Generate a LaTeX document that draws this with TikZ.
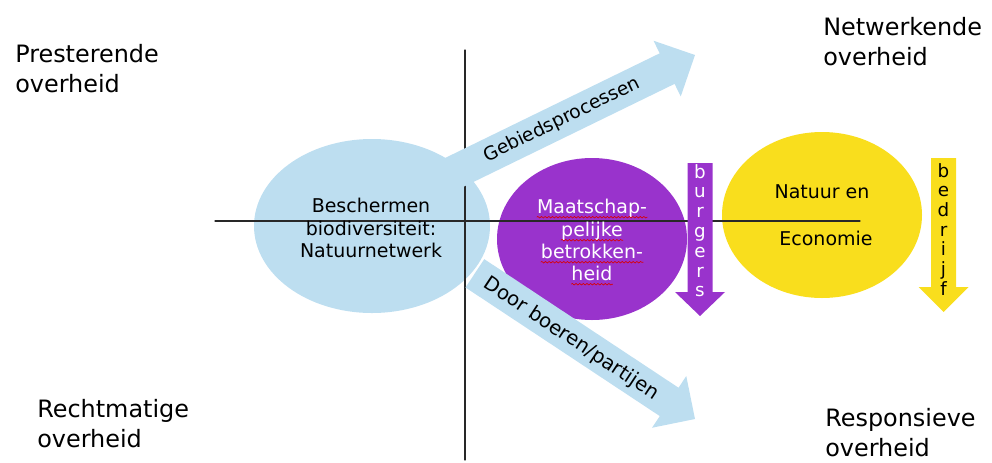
\documentclass[tikz,border=0pt]{standalone}
\usepackage{fontspec}
\setmainfont{DejaVu Sans}
\usepackage{tikz,tkz-euclide}
\usetikzlibrary{calc,decorations.pathmorphing}

\definecolor{lichtblauw}{RGB}{189,222,240}
\definecolor{paars}{RGB}{153,51,204}
\definecolor{geel}{RGB}{249,222,29}
\definecolor{lijn}{RGB}{40,40,40}

\tikzset{
	hoek/.style={anchor=north west, align=left, inner sep=0pt, font=\fontsize{17}{21.5}\selectfont},
	binnen/.style={inner sep=0pt, font=\fontsize{13.5}{16}\selectfont},
	letter/.style={anchor=base, inner sep=0pt, font=\fontsize{13}{15}\selectfont},
	kronkel/.style={red!85!black, line width=0.45pt, decorate, decoration={snake, amplitude=0.55pt, segment length=2.6pt}},
}

\begin{document}
\begin{tikzpicture}[x=0.025cm, y=-0.025cm]
			\useasboundingbox (0,0) rectangle (992,462);
			\tkzDefPoints{215/221/W,860/221/E,465/50/N,465/460/S}
			\tkzDefPoints{372/226/B,592/239/M,822/215/G}
			\fill[lichtblauw] (B) ellipse [x radius=118, y radius=87];
			\fill[paars] (M) ellipse [x radius=95, y radius=81];
			\fill[geel] (G) ellipse [x radius=100, y radius=83];
			\tkzDrawSegments[lijn, line width=0.9pt](W,E N,S)
			\foreach \x/\y/\hoek/\lengte in {695/55/26/290, 695/419/-33.5/264}
				\fill[lichtblauw, shift={(\x,\y)}, rotate=\hoek] (0,0) -- (-31,-31) -- (-31,-17) -- (-\lengte,-17)
					-- (-\lengte,17) -- (-31,17) -- (-31,31) -- cycle;
			\foreach \x/\top/\kop/\punt/\kleur in {700/163/292/316/paars, 943.5/158/287/312/geel}
				\fill[\kleur] (\x-12.5,\top) -- (\x+12.5,\top) -- (\x+12.5,\kop) -- (\x+25,\kop) -- (\x,\punt)
					-- (\x-25,\kop) -- (\x-12.5,\kop) -- cycle;
			\node[hoek] (pres) at (15,44) {Presterende\\overheid};
			\node[hoek] (netw) at (823,17) {Netwerkende\\overheid};
			\node[hoek] (recht) at (37,399) {Rechtmatige\\overheid};
			\node[hoek] (resp) at (825,408) {Responsieve\\overheid};
			\node[binnen, align=center] (besch) at (371,228) {Beschermen\\biodiversiteit:\\Natuurnetwerk};
			\node[binnen, anchor=base, white] (m1) at (592,213) {Maatschap-};
			\node[binnen, anchor=base, white] (m2) at (592,236) {pelijke};
			\node[binnen, anchor=base, white] (m3) at (592,258) {betrokken-};
			\node[binnen, anchor=base, white] (m4) at (592,280) {heid};
			\foreach \n in {m1,m2,m3,m4}
				\draw[kronkel] ([yshift=-3pt]\n.base west) -- ([yshift=-3pt]\n.base east);
			\node[binnen, anchor=base] (nat) at (822,198) {Natuur en};
			\node[binnen, anchor=base] (eco) at (826,245) {Economie};
			\node[inner sep=0pt, rotate=26, font=\fontsize{13.3}{15}\selectfont] (gebied) at (562,120) {Gebiedsprocessen};
			\node[inner sep=0pt, rotate=-33.5, font=\fontsize{14}{16}\selectfont] (boer) at (571,339) {Door boeren/partijen};
			\foreach \l [count=\i] in {b,u,r,g,e,r,s}
				\node[letter, white] (bu\i) at (700,{178+(\i-1)*19.8}) {\l};
			\foreach \l [count=\i] in {b,e,d,r,i,j,f}
				\node[letter] (be\i) at (943.5,{177+(\i-1)*19.7}) {\l};
		\end{tikzpicture}
\end{document}
